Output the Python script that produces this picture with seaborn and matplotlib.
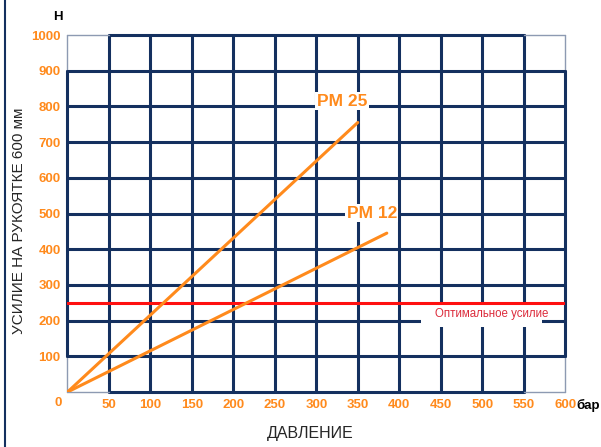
import numpy as np
import pandas as pd
import seaborn as sns
import matplotlib.pyplot as plt
from matplotlib.lines import Line2D
from matplotlib.patches import Rectangle

# data
pm25_pressure = [0, 350]
pm25_force = [0, 755]
pm12_pressure = [0, 385]
pm12_force = [0, 445]
optimal_force = 250
x_ticks = [50, 100, 150, 200, 250, 300, 350, 400, 450, 500, 550, 600]
y_ticks = [100, 200, 300, 400, 500, 600, 700, 800, 900, 1000]

d = pd.DataFrame({
    "pressure": pm25_pressure + pm12_pressure,
    "force": pm25_force + pm12_force,
    "model": ["PM 25"] * 2 + ["PM 12"] * 2,
})

sns.set_style("white")
plt.rcParams["font.family"] = ["Liberation Sans", "DejaVu Sans"]

orange = "#ff8a1c"
navy = "#14305f"
thin = "#8d9ab2"

fig = plt.figure(figsize=(6.01, 4.47), dpi=100)
ax = fig.add_axes([0.1123, 0.123, 0.828, 0.7987])
ax.set_xlim(0, 600)
ax.set_ylim(0, 1000)
for s in ax.spines.values():
    s.set_visible(False)

# grid, corner cells have thin outer edges
for x in [0] + x_ticks:
    if x in (0, 600):
        ax.plot([x, x], [100, 900], color=navy, lw=2.2, zorder=1, clip_on=False)
        ax.plot([x, x], [0, 100], color=thin, lw=1, zorder=1, clip_on=False)
        ax.plot([x, x], [900, 1000], color=thin, lw=1, zorder=1, clip_on=False)
    else:
        ax.plot([x, x], [0, 1000], color=navy, lw=2.2, zorder=1, clip_on=False)
for y in [0] + y_ticks:
    if y in (0, 1000):
        ax.plot([50, 550], [y, y], color=navy, lw=2.2, zorder=1, clip_on=False)
        ax.plot([0, 50], [y, y], color=thin, lw=1, zorder=1, clip_on=False)
        ax.plot([550, 600], [y, y], color=thin, lw=1, zorder=1, clip_on=False)
    else:
        ax.plot([0, 600], [y, y], color=navy, lw=2.2, zorder=1, clip_on=False)

ax.axhline(optimal_force, color="#ff1010", lw=2.2, zorder=3)

sns.lineplot(data=d, x="pressure", y="force", units="model", estimator=None,
             color=orange, lw=2.2, ax=ax, zorder=4)

ax.text(331, 815, "PM 25", color=orange, fontsize=12.5, fontweight="bold",
        ha="center", va="center", zorder=5,
        bbox=dict(facecolor="white", edgecolor="none", pad=1))
ax.text(367, 501, "PM 12", color=orange, fontsize=12.5, fontweight="bold",
        ha="center", va="center", zorder=5,
        bbox=dict(facecolor="white", edgecolor="none", pad=1))
ax.add_patch(Rectangle((426, 183), 146, 70, facecolor="white", edgecolor="none", zorder=2))
ax.text(511, 218, "Оптимальное усилие", color="#dc2c3c", fontsize=8.3,
        ha="center", va="center", zorder=5)

ax.set_xticks(x_ticks)
ax.set_yticks(y_ticks)
ax.set_xticklabels([str(v) for v in x_ticks], color=orange, fontweight="bold", fontsize=9.5)
ax.set_yticklabels([str(v) for v in y_ticks], color=orange, fontweight="bold", fontsize=9.5)
ax.tick_params(length=0, pad=5)
ax.text(-11, -31, "0", color=orange, fontweight="bold", fontsize=9.5, ha="center", va="center")
ax.text(614, -38, "бар", color="black", fontweight="bold", fontsize=9.5, ha="left", va="center", clip_on=False)
ax.text(-12, 1050, "Н", color="black", fontweight="bold", fontsize=9.5, ha="center", va="center")

ax.set_xlabel("ДАВЛЕНИЕ", fontsize=11.5)
ax.set_ylabel("УСИЛИЕ НА РУКОЯТКЕ 600 мм", fontsize=11)
ax.xaxis.set_label_coords(0.487, -0.095)
ax.yaxis.set_label_coords(-0.083, 0.48)

fig.add_artist(Line2D([0.009, 0.009], [0, 1], color=navy, lw=1.5))

fig.savefig("out.png", dpi=100)
